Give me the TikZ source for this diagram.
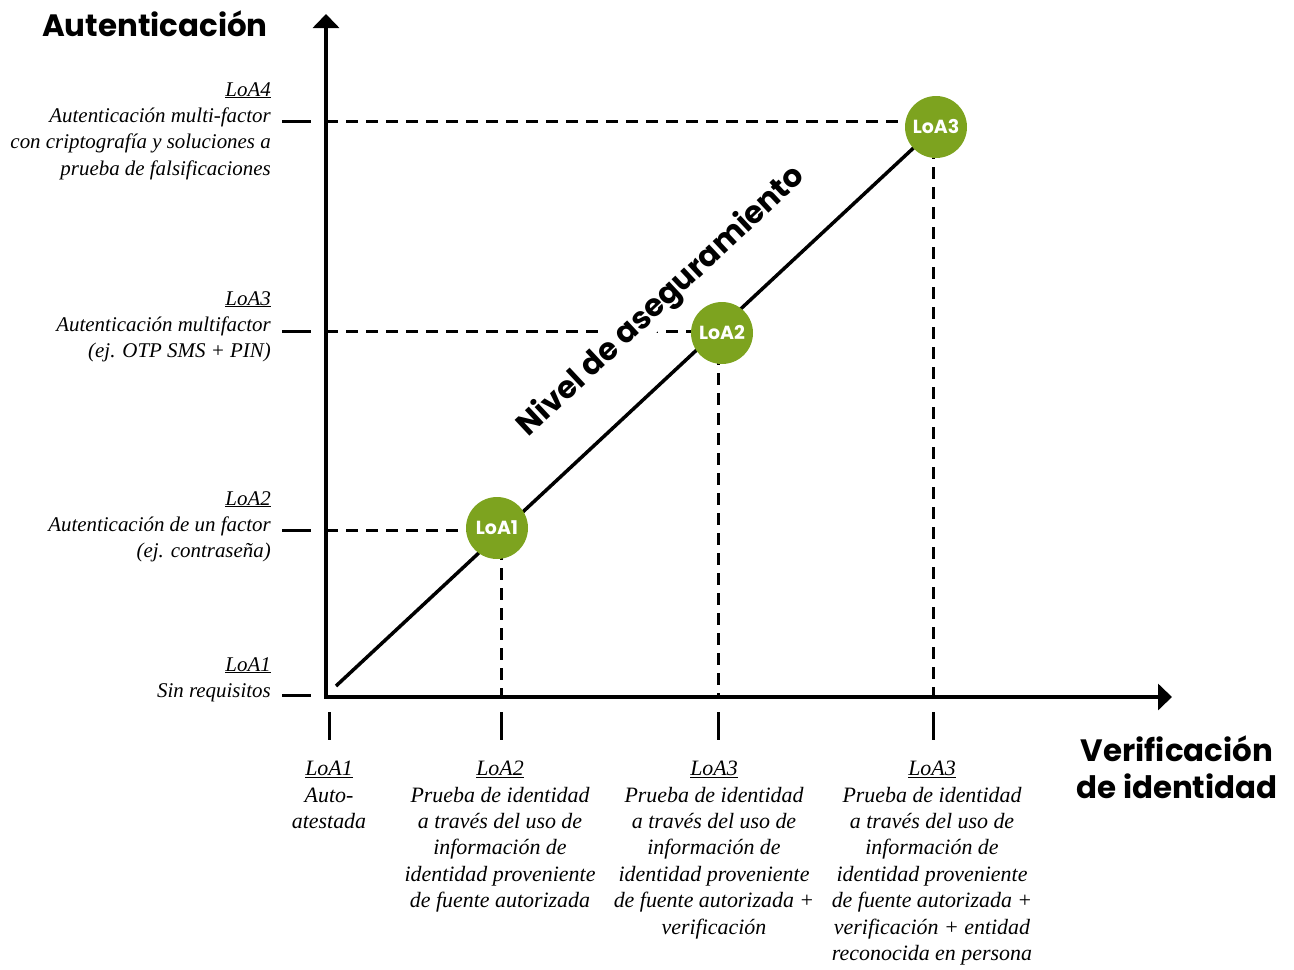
\documentclass[tikz,border=0pt]{standalone}
\usepackage{fontspec}
\setmainfont{Liberation Serif}
\newfontfamily\headfont{Poppins}
\usetikzlibrary{arrows.meta}
\definecolor{loagreen}{HTML}{7DA31F}

\begin{document}
\begin{tikzpicture}[x=1bp,y=-1bp,
  axisline/.style={line width=4bp,line cap=rect,-{Triangle[width=26bp,length=14bp]}},
  guide/.style={line width=3bp,dash pattern=on 12bp off 8bp},
  tick/.style={line width=3bp},
  diag/.style={line width=3.5bp},
  loa/.style={circle,fill=loagreen,minimum size=62bp,inner sep=0pt,text=white,
    font=\headfont\bfseries\fontsize{19}{19}\selectfont},
  leftlbl/.style={font=\itshape\fontsize{21}{26.5}\selectfont,align=right,anchor=north east,inner sep=0pt},
  botlbl/.style={font=\itshape\fontsize{22}{26.5}\selectfont,align=center,anchor=north,inner sep=0pt},
  head/.style={font=\headfont\bfseries\fontsize{31}{37}\selectfont,inner sep=0pt,align=center},
  slope/.style={font=\headfont\bfseries\fontsize{31}{34}\selectfont,fill=white,inner sep=2bp,rotate=43.1}
]
\useasboundingbox (0,0) rectangle (1294,970);

% axis frame
\coordinate (O) at (326,697);
\coordinate (Ytop) at (326,14);
\coordinate (Xend) at (1172,697);
\coordinate (D0) at (336,686);

% level points on the diagonal
\coordinate (p1) at (497,528);
\coordinate (p2) at (722,333);
\coordinate (p3) at (936,127);

% horizontal guide starts on the vertical axis
\coordinate (h4) at (326,121);
\coordinate (h3) at (326,331);
\coordinate (h2) at (326,530);
% vertical guide feet on the horizontal axis
\coordinate (v2) at (501,697);
\coordinate (v3) at (718,697);
\coordinate (v4) at (933,697);

% guides
\draw[guide] (h4) -- (h4 -| p3);
\draw[guide] (h3) -- (h3 -| p2);
\draw[guide] (h2) -- (h2 -| p1);
\draw[guide] (v2 |- p1) -- (v2);
\draw[guide] (v3 |- p2) -- (v3);
\draw[guide] (v4 |- p3) -- (v4);

% ticks left of the vertical axis
\foreach \yy/\nm in {121/t4,331/t3,530/t2,695/t1}{
  \coordinate (\nm a) at (282,\yy);
  \coordinate (\nm b) at (311,\yy);
  \draw[tick] (\nm a) -- (\nm b);
}
% ticks below the horizontal axis
\foreach \xx/\nm in {329/b1,501/b2,718/b3,933/b4}{
  \coordinate (\nm a) at (\xx,712);
  \coordinate (\nm b) at (\xx,740);
  \draw[tick] (\nm a) -- (\nm b);
}

% diagonal
\draw[diag] (D0) -- (p3);

% axes
\draw[axisline] (O) -- (Ytop);
\draw[axisline] (O) -- (Xend);

% level circles
\node[loa] (c1) at (p1) {LoA1};
\node[loa] (c2) at (p2) {LoA2};
\node[loa] (c3) at (p3) {LoA3};

% diagonal caption
\node[slope] (nivel) at (662,302) {Nivel de aseguramiento};

% axis titles
\node[head] (auth) at (155,24) {Autenticación};
\node[head] (verif) at (1177,767) {Verificación\\de identidad};

% authentication levels
\node[leftlbl] (a4) at (271,82) {\underline{LoA4}\\Autenticación multi-factor\\con criptografía y soluciones a\\prueba de falsificaciones};
\node[leftlbl] (a3) at (271,291) {\underline{LoA3}\\Autenticación multifactor\\(ej. OTP SMS + PIN)};
\node[leftlbl] (a2) at (271,491) {\underline{LoA2}\\Autenticación de un factor\\(ej. contraseña)};
\node[leftlbl] (a1) at (271,657) {\underline{LoA1}\\Sin requisitos};

% identity verification levels
\node[botlbl] (i1) at (329,761) {\underline{LoA1}\\Auto-\\atestada};
\node[botlbl] (i2) at (500,761) {\underline{LoA2}\\Prueba de identidad\\a través del uso de\\información de\\identidad proveniente\\de fuente autorizada};
\node[botlbl] (i3) at (714,761) {\underline{LoA3}\\Prueba de identidad\\a través del uso de\\información de\\identidad proveniente\\de fuente autorizada +\\verificación};
\node[botlbl] (i4) at (932,761) {\underline{LoA3}\\Prueba de identidad\\a través del uso de\\información de\\identidad proveniente\\de fuente autorizada +\\verificación + entidad\\reconocida en persona};
\end{tikzpicture}
\end{document}
